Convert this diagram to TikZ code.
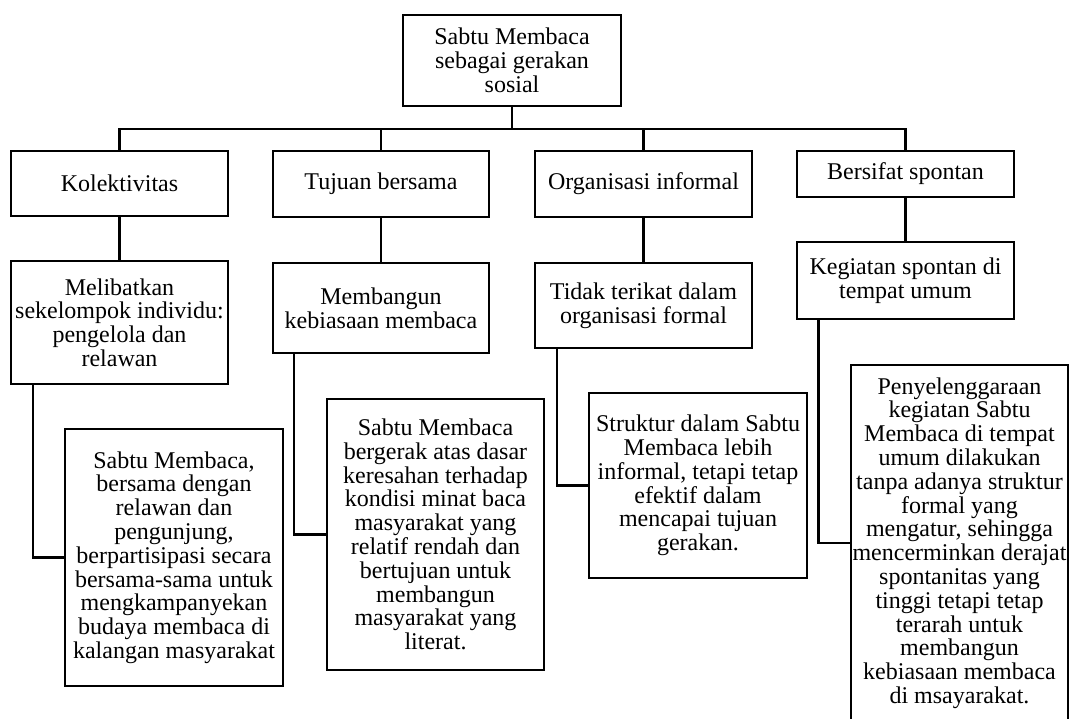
\documentclass[tikz,border=0pt]{standalone}
\usepackage{fontspec}
\setmainfont{Liberation Serif}
\begin{document}
\begin{tikzpicture}[x=1pt,y=-1pt,
  box/.style={draw=black, line width=2.9pt, inner sep=0pt, outer sep=0pt, align=center,
    font=\fontsize{24}{23.8}\selectfont},
  link/.style={draw=black, line width=2.9pt}]
\useasboundingbox[fill=white] (0,0) rectangle (1071,718);
% root
\node[box, minimum width=218, minimum height=91] (root) at (512,60.5) {Sabtu Membaca\\sebagai gerakan\\sosial};
% level 1
\node[box, minimum width=217, minimum height=65] (k1) at (119.5,183.5) {Kolektivitas};
\node[box, minimum width=216, minimum height=66] (k2) at (381,184) {Tujuan bersama};
\node[box, minimum width=217, minimum height=66] (k3) at (643.5,184) {Organisasi informal};
\node[box, minimum width=217, minimum height=46] (k4) at (905.5,174) {Bersifat spontan};
% level 2
\node[box, minimum width=217, minimum height=123] (m1) at (119.5,322.5) {Melibatkan\\sekelompok individu:\\pengelola dan\\relawan};
\node[box, minimum width=216, minimum height=90] (m2) at (381,308) {Membangun\\kebiasaan membaca};
\node[box, minimum width=217, minimum height=85] (m3) at (643.5,305.5) {Tidak terikat dalam\\organisasi formal};
\node[box, minimum width=217, minimum height=77] (m4) at (905.5,280.5) {Kegiatan spontan di\\tempat umum};
% level 3
\node[box, minimum width=218, minimum height=257] (d1) at (174,557.5) {Sabtu Membaca,\\bersama dengan\\relawan dan\\pengunjung,\\berpartisipasi secara\\bersama-sama untuk\\mengkampanyekan\\budaya membaca di\\kalangan masyarakat};
\node[box, minimum width=217, minimum height=271] (d2) at (435.5,534.5) {Sabtu Membaca\\bergerak atas dasar\\keresahan terhadap\\kondisi minat baca\\masyarakat yang\\relatif rendah dan\\bertujuan untuk\\membangun\\masyarakat yang\\literat.};
\node[box, minimum width=218, minimum height=185] (d3) at (698,485.5) {Struktur dalam Sabtu\\Membaca lebih\\informal, tetapi tetap\\efektif dalam\\mencapai tujuan\\gerakan.};
\node[box, minimum width=217, minimum height=356] (d4) at (959.5,543) {Penyelenggaraan\\kegiatan Sabtu\\Membaca di tempat\\umum dilakukan\\tanpa adanya struktur\\formal yang\\mengatur, sehingga\\mencerminkan derajat\\spontanitas yang\\tinggi tetapi tetap\\terarah untuk\\membangun\\kebiasaan membaca\\di msayarakat.};
% bus
\coordinate (bus) at (119.5,129);
\draw[link] (root.south) -- (root.south |- bus);
\draw[link] (k1.north) -- (k1.north |- bus) -| (k4.north);
\draw[link] (k2.north) -- (k2.north |- bus);
\draw[link] (k3.north) -- (k3.north |- bus);
% level 1 -> level 2
\draw[link] (k1.south) -- (m1.north);
\draw[link] (k2.south) -- (m2.north);
\draw[link] (k3.south) -- (m3.north);
\draw[link] (k4.south) -- (m4.north);
% level 2 -> level 3 elbows
\draw[link] ([xshift=22pt]m1.south west) |- (d1.west);
\draw[link] ([xshift=21pt]m2.south west) |- (d2.west);
\draw[link] ([xshift=22pt]m3.south west) |- (d3.west);
\draw[link] ([xshift=21.5pt]m4.south west) |- (d4.west);
\end{tikzpicture}
\end{document}
